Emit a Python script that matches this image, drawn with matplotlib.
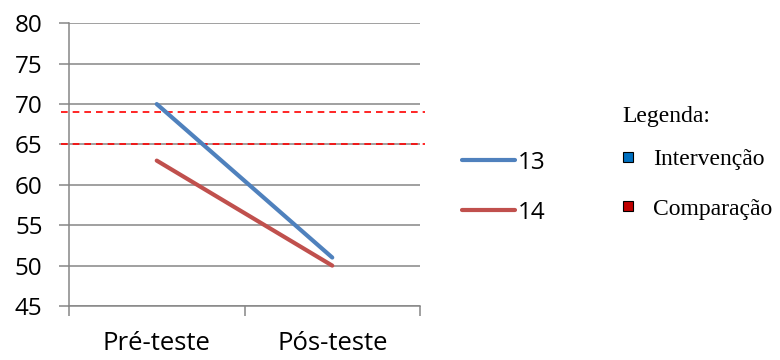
import matplotlib
matplotlib.use("Agg")
import matplotlib.pyplot as plt
from matplotlib.lines import Line2D

# data
momentos = ["Pré-teste", "Pós-teste"]
grupo_13 = [70, 51]
grupo_14 = [63, 50]
rotulos_series = ["13", "14"]
limites = [65, 69]
legenda_titulo = "Legenda:"
legenda_grupos = ["Intervenção", "Comparação"]
legenda_cores = ["#0070C0", "#C00000"]

plt.rcParams["font.family"] = ["Open Sans", "DejaVu Sans"]

fig = plt.figure(figsize=(7.8, 3.6), dpi=100)
ax = fig.add_axes([69 / 780, 1 - 306 / 360, 351 / 780, (306 - 23.3) / 360])

grid_col = "#868686"
x = [0.5, 1.5]
l13, = ax.plot(x, grupo_13, color="#4F81BD", lw=3, solid_capstyle="round", zorder=4)
l14, = ax.plot(x, grupo_14, color="#C0504D", lw=3, solid_capstyle="round", zorder=4)

ax.set_xlim(0, 2)
ax.set_ylim(45, 80)
ax.set_yticks(range(45, 81, 5))
ax.yaxis.grid(True, color=grid_col, lw=1.1)
ax.set_axisbelow(True)
ax.set_xticks([0, 1, 2])
ax.set_xticklabels([])
ax.set_xticks(x, minor=True)
ax.set_xticklabels(momentos, minor=True, fontsize=18.5)
ax.tick_params(axis="x", which="minor", length=0, pad=18)
ax.tick_params(axis="x", which="major", direction="out", length=7, width=1.1, color=grid_col)
ax.tick_params(axis="y", direction="out", length=7, width=1.1, color=grid_col,
               labelsize=17.5, pad=12)
for side in ["top", "right"]:
    ax.spines[side].set_visible(False)
for side in ["left", "bottom"]:
    ax.spines[side].set_color(grid_col)
    ax.spines[side].set_linewidth(1.1)

# reference limits, drawn a bit past the plot edges
for y in limites:
    ax.plot([-0.023, 1.014], [y, y], transform=ax.get_yaxis_transform(),
            color="red", ls=(0, (4, 3)), lw=1.2, clip_on=False, zorder=3)

fig.legend([l13, l14], rotulos_series, loc="center left",
           bbox_to_anchor=(440 / 780, 1 - 188 / 360), frameon=False,
           fontsize=17.5, handlelength=2.2, handletextpad=0.1, labelspacing=1.07)

# group key on the right
serif = "Liberation Serif"
fs = 17
fig.text(622 / 780, 1 - 117 / 360, legenda_titulo, family=serif, fontsize=fs,
         ha="left", va="center")
handles = [Line2D([], [], ls="none", marker="s", markersize=7.5,
                  markerfacecolor=c, markeredgecolor="black", markeredgewidth=0.8)
           for c in legenda_cores]
fig.legend(handles, legenda_grupos, loc="center left",
           bbox_to_anchor=(600 / 780, 1 - 184 / 360), frameon=False,
           prop={"family": serif, "size": fs},
           handlelength=0.6, handletextpad=0.75, labelspacing=1.2)

fig.savefig("out.png", dpi=100)
